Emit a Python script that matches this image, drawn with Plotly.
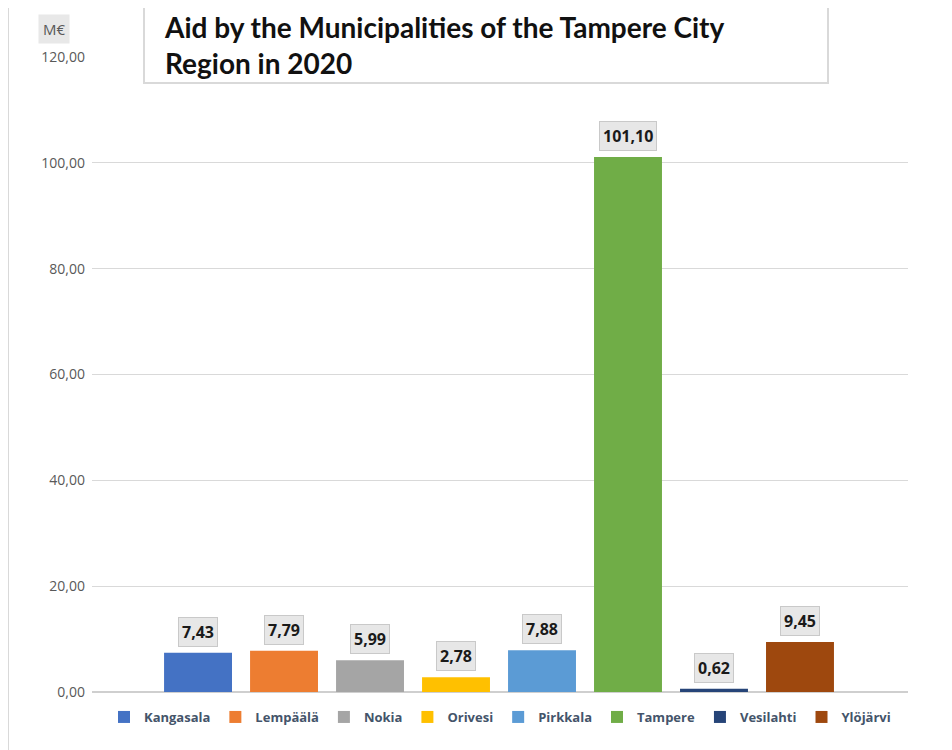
import plotly.graph_objects as go

municipalities = ["Kangasala", "Lempäälä", "Nokia", "Orivesi", "Pirkkala", "Tampere", "Vesilahti", "Ylöjärvi"]
aid_meur = [7.43, 7.79, 5.99, 2.78, 7.88, 101.10, 0.62, 9.45]
colors = ["#4472C4", "#ED7D31", "#A5A5A5", "#FFC000", "#5B9BD5", "#70AD47", "#264478", "#9E480E"]
title_text = "Aid by the Municipalities of the Tampere City<br>Region in 2020"
unit_label = "M€"
y_ticks = [0, 20, 40, 60, 80, 100, 120]

OFF = 8  # page body margin
W, H = 952 - OFF, 750 - OFF
PL, PR, PT, PB = 92, 908, 57, 692  # plot area in page px


def px_x(p):
    return (p - PL) / (PR - PL)


def px_y(p):
    return (PB - p) / (PB - PT)


fig = go.Figure()
for name, val, col in zip(municipalities, aid_meur, colors):
    fig.add_trace(go.Bar(
        x=[name], y=[val], name=name,
        marker=dict(color=col, line=dict(width=0)),
        hoverinfo="x+y",
    ))
    fig.add_annotation(
        x=name, y=val, xref="x", yref="y",
        text="<b>" + f"{val:.2f}".replace(".", ",") + "</b>",
        showarrow=False, yanchor="bottom", yshift=6,
        font=dict(family="Open Sans", size=16, color="#1a1a1a"),
        bgcolor="#e7e7e7", bordercolor="#c9c9c9", borderwidth=1, borderpad=3,
    )

shapes = [
    # outer frame lines
    dict(type="line", xref="paper", yref="paper", x0=px_x(8), x1=px_x(8), y0=px_y(7), y1=px_y(760),
         line=dict(color="#d9d9d9", width=2)),
    dict(type="line", xref="paper", yref="paper", x0=px_x(8), x1=px_x(960), y0=px_y(7), y1=px_y(7),
         line=dict(color="#d9d9d9", width=2)),
    dict(type="rect", xref="paper", yref="paper", x0=px_x(828), x1=px_x(960), y0=px_y(-5), y1=px_y(6),
         fillcolor="#f0f0f0", line=dict(width=0)),
    # title box
    dict(type="rect", xref="paper", yref="paper", x0=px_x(144), x1=px_x(828), y0=px_y(-10), y1=px_y(83),
         fillcolor="white", line=dict(color="#d9d9d9", width=2)),
]

annotations_extra = [
    dict(x=px_x(162), y=px_y(45), xref="paper", yref="paper", xanchor="left", yanchor="middle",
         text="<b>" + title_text + "</b>", showarrow=False, align="left",
         font=dict(family="Lato", size=28, color="#111111")),
    dict(x=px_x(54), y=px_y(29), xref="paper", yref="paper", xanchor="center", yanchor="middle",
         text=unit_label, showarrow=False, bgcolor="#e8e8e8", borderpad=4,
         font=dict(family="Open Sans", size=15, color="#595959")),
]
for a in annotations_extra:
    fig.add_annotation(**a)

fig.update_layout(
    width=W, height=H,
    margin=dict(l=PL - OFF, r=W - (PR - OFF), t=PT - OFF, b=H - (PB - OFF)),
    paper_bgcolor="white", plot_bgcolor="white",
    barmode="overlay", bargap=0.21,
    separators=", ",
    shapes=shapes,
    showlegend=True,
    legend=dict(orientation="h", x=0.5, xanchor="center", y=px_y(717), yanchor="middle",
                font=dict(family="Open Sans", size=13, color="#44546A", weight="bold"),
                itemclick=False, traceorder="normal"),
    font=dict(family="Open Sans"),
)
fig.update_xaxes(type="category", categoryorder="array", categoryarray=municipalities,
                 range=[-1.233, 8.256], showticklabels=False, showgrid=False, zeroline=False,
                 showline=False, fixedrange=True)
fig.update_yaxes(range=[0, 120], tickvals=y_ticks, tickformat=".2f",
                 showgrid=True, gridcolor="#d9d9d9", gridwidth=1,
                 zeroline=True, zerolinecolor="#cfcfcf", zerolinewidth=1.5,
                 tickfont=dict(family="Open Sans", size=14, color="#595959"),
                 ticklabelstandoff=6, showline=False, fixedrange=True)

fig.write_html("out.html")
